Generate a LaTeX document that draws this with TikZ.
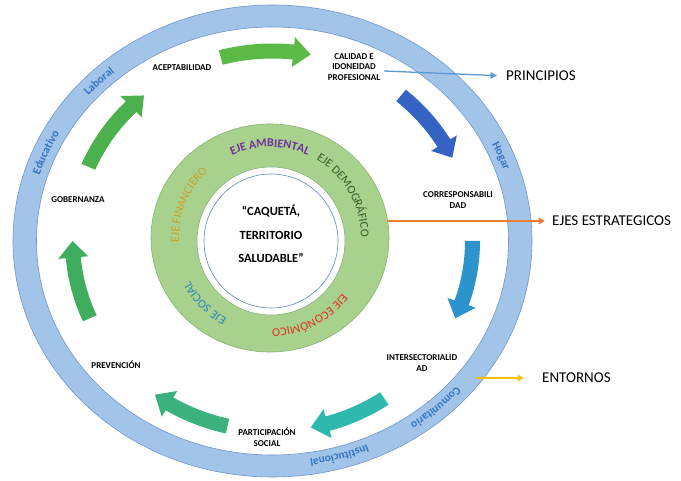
\documentclass[tikz,border=0pt]{standalone}
\usepackage{fontspec}
\setmainfont{Carlito}
\usetikzlibrary{arrows.meta,decorations.text}
\definecolor{ringfill}{HTML}{A3C4E9}
\definecolor{ringedge}{HTML}{7096C8}
\definecolor{ringtext}{HTML}{3474C2}
\definecolor{greenfill}{HTML}{A9D18E}
\definecolor{greenedge}{HTML}{86B36A}
\definecolor{innerblue}{HTML}{5B86C9}
\definecolor{arA}{HTML}{5CB946}
\definecolor{arB}{HTML}{4DB04F}
\definecolor{arC}{HTML}{3FAD5E}
\definecolor{arD}{HTML}{3BB27E}
\definecolor{arE}{HTML}{2FB8AE}
\definecolor{arF}{HTML}{2C93CC}
\definecolor{arG}{HTML}{3563C3}
\definecolor{ambcol}{HTML}{7030A0}
\definecolor{demcol}{HTML}{3B5A2A}
\definecolor{ecocol}{HTML}{E0301E}
\definecolor{soccol}{HTML}{2E86C1}
\definecolor{fincol}{HTML}{C9A227}
\definecolor{princol}{HTML}{5B9BD5}
\definecolor{ejescol}{HTML}{ED7D31}
\definecolor{entcol}{HTML}{FFC000}
\newcommand\cyclearrow[3]{%
  \pgfmathsetmacro\hb{#2+5}%
  \fill[#3] (#1:207.5pt and 197.5pt)
    arc[start angle=#1, end angle=\hb, x radius=207.5pt, y radius=197.5pt]
    -- (\hb:215pt and 205pt) -- (#2:200pt and 190pt) -- (\hb:185pt and 175pt)
    -- (\hb:192.5pt and 182.5pt)
    arc[start angle=\hb, end angle=#1, x radius=192.5pt, y radius=182.5pt] -- cycle;
}
\newcommand\ringlabel[2]{%
  \pgfmathsetmacro\ra{#1+22}\pgfmathsetmacro\rb{#1-22}%
  \path[decorate, decoration={text along path, text align=center,
     text={|\fontsize{11.5}{12}\selectfont\bfseries\color{ringtext}|#2}}]
     (\ra:244pt and 221pt) arc[start angle=\ra, end angle=\rb, x radius=244pt, y radius=221pt];
}
\newcommand\greenlabel[4]{%
  \pgfmathsetmacro\ra{#1+42}\pgfmathsetmacro\rb{#1-42}%
  \path[decorate, decoration={text along path, text align=center,
     text={|\fontsize{12}{12}\selectfont#3\color{#2}|#4}}]
     (\ra:91pt) arc[start angle=\ra, end angle=\rb, radius=91pt];
}
\tikzset{
  lbl/.style={font=\fontsize{9}{10.5}\selectfont\bfseries, align=center, inner sep=1pt},
  big/.style={font=\fontsize{15}{15}\selectfont, anchor=west, inner sep=1pt},
  title/.style={font=\fontsize{12.5}{23.5}\selectfont\bfseries, align=center, inner sep=0pt},
  conn/.style={line width=1.3pt, -{Triangle[length=6.5pt,width=6.5pt]}}
}
\begin{document}
\begin{tikzpicture}[x=1pt,y=1pt]
\useasboundingbox (0,0) rectangle (681,480);
\coordinate (C) at (272.5,239);
\coordinate (G) at (270,242);
\coordinate (W) at (271,239);
% outer ring
\fill[ringfill, even odd rule] (C) ellipse[x radius=259.5pt, y radius=236pt]
   (C) ellipse[x radius=236pt, y radius=214pt];
\draw[ringedge, line width=0.6pt] (C) ellipse[x radius=259.5pt, y radius=236pt];
\draw[ringedge, line width=0.6pt] (C) ellipse[x radius=236pt, y radius=214pt];
\begin{scope}[shift={(C)}]
  \ringlabel{157}{Educativo}
  \ringlabel{135}{Laboral}
  \ringlabel{22}{Hogar}
  \ringlabel{-48}{Comunitario}
  \ringlabel{-74}{Institucional}
  \cyclearrow{105}{79}{arA}
  \cyclearrow{157}{130}{arB}
  \cyclearrow{204}{180}{arC}
  \cyclearrow{257}{234}{arD}
  \cyclearrow{304}{281}{arE}
  \cyclearrow{360}{336}{arF}
  \cyclearrow{50}{26}{arG}
\end{scope}
% green ring
\fill[greenfill, even odd rule] (G) ellipse[x radius=119pt, y radius=114pt] (W) circle[radius=74pt];
\draw[greenedge, line width=0.6pt] (G) ellipse[x radius=119pt, y radius=114pt];
\draw[greenedge!80!ringedge, line width=0.5pt] (W) circle[radius=74pt];
\draw[innerblue, line width=0.6pt] (W) circle[radius=67pt];
\begin{scope}[shift={(G)}]
  \greenlabel{90}{ambcol}{\bfseries}{EJE AMBIENTAL}
  \greenlabel{30}{demcol}{}{EJE DEMOGRÁFICO}
  \greenlabel{-63}{ecocol}{}{EJE ECONÓMICO}
  \greenlabel{-135}{soccol}{}{EJE SOCIAL}
  \greenlabel{158}{fincol}{}{EJE FINANCIERO}
\end{scope}
\node[title] (centro) at (271,246) {“CAQUETÁ,\\TERRITORIO\\SALUDABLE”};
% labels
\node[lbl] (acept) at (182,412) {ACEPTABILIDAD};
\node[lbl] (calidad) at (354,413) {CALIDAD E\\IDONEIDAD\\PROFESIONAL};
\node[lbl] (corresp) at (458,280) {CORRESPONSABILI\\DAD};
\node[lbl] (inter) at (422,117) {INTERSECTORIALID\\AD};
\node[lbl] (partic) at (267,42.5) {PARTICIPACIÓN\\SOCIAL};
\node[lbl] (prev) at (116,115) {PREVENCIÓN};
\node[lbl] (gob) at (78,280) {GOBERNANZA};
\node[big] (princ) at (505,404) {PRINCIPIOS};
\node[big] (ejes) at (551,259) {EJES ESTRATEGICOS};
\node[big] (ent) at (541,102) {ENTORNOS};
% connectors
\coordinate (s1) at (384,409);
\coordinate (s2) at (387,259);
\coordinate (s3) at (477,102);
\draw[conn, princol, shorten >=8pt] (s1) -- (princ.west);
\draw[conn, ejescol, shorten >=6pt] (s2) -- (ejes.west);
\draw[conn, entcol, shorten >=17pt] (s3) -- (ent.west);
\end{tikzpicture}
\end{document}
